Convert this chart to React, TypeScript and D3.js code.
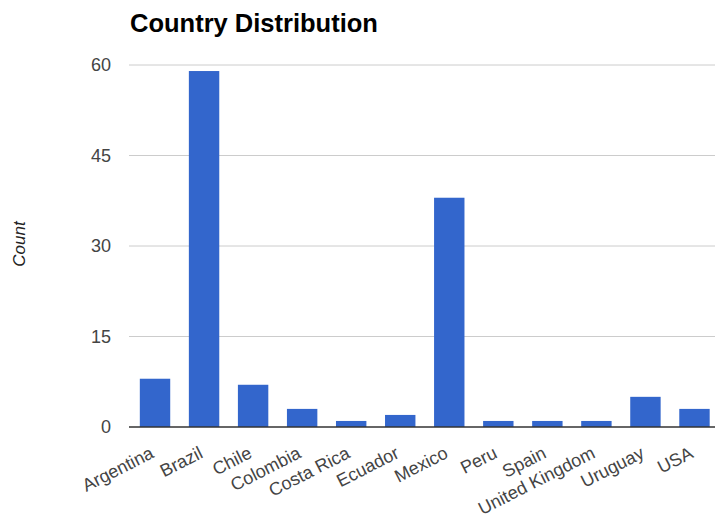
import React from "react";
import * as d3 from "d3";

const categories = ["Argentina", "Brazil", "Chile", "Colombia", "Costa Rica", "Ecuador", "Mexico", "Peru", "Spain", "United Kingdom", "Uruguay", "USA"];
const counts = [8, 59, 7, 3, 1, 2, 38, 1, 1, 1, 5, 3];
const yTicks = [0, 15, 30, 45, 60];
const title = "Country Distribution";
const yTitle = "Count";

const W = 715;
const H = 525;

export default function App() {
  const x = d3.scaleBand<string>().domain(categories).range([130.5, 719]).paddingInner(0.38).paddingOuter(0.19);
  const y = d3.scaleLinear().domain([0, 60]).range([427, 65]);
  const font = "Arial, 'Liberation Sans', Helvetica, sans-serif";
  return (
    <svg width={W} height={H} style={{ position: "absolute", left: 0, top: 0 }} fontFamily={font}>
      <rect width={W} height={H} fill="#fff" />
      <text x={130} y={32} fontSize={25.5} fontWeight="bold" fill="#000">{title}</text>
      {yTicks.map((t) => (
        <g key={t}>
          {t !== 0 && <line x1={129} x2={W} y1={y(t)} y2={y(t)} stroke="#cccccc" strokeWidth={1} />}
          <text x={111} y={y(t)} dy="0.35em" textAnchor="end" fontSize={18} fill="#444">{t}</text>
        </g>
      ))}
      {categories.map((c, i) => (
        <rect key={c} x={x(c)} y={y(counts[i])} width={x.bandwidth()} height={y(0) - y(counts[i])} fill="#3366cc" />
      ))}
      <line x1={129} x2={W} y1={y(0)} y2={y(0)} stroke="#333" strokeWidth={1.5} />
      {categories.map((c) => {
        const cx = (x(c) as number) + x.bandwidth() / 2;
        const cy = 457;
        return (
          <text key={c} x={cx} y={cy} textAnchor="end" fontSize={18} fill="#444" transform={`rotate(-27 ${cx} ${cy})`}>{c}</text>
        );
      })}
      <text x={0} y={0} transform={`translate(25 244) rotate(-90)`} textAnchor="middle" fontSize={17} fontStyle="italic" fill="#222">{yTitle}</text>
    </svg>
  );
}
